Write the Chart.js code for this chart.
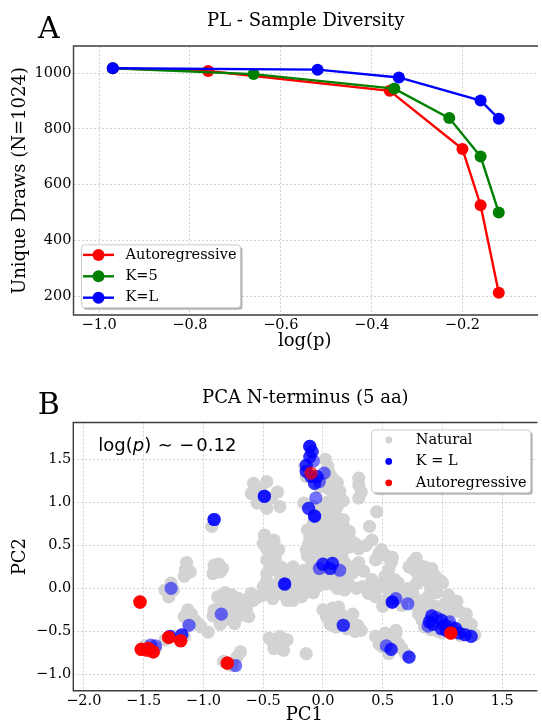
<!DOCTYPE html>
<html>
<head>
<meta charset="utf-8">
<script src="https://cdn.jsdelivr.net/npm/chart.js@4.4.1/dist/chart.umd.min.js"></script>
<style>
  html, body { margin: 0; padding: 0; background: #fff; }
  #wrap { position: relative; width: 542px; height: 726px; overflow: hidden; }
  #panelA { position: absolute; left: 0; top: 0; }
  #panelB { position: absolute; left: 0; top: 376px; }
</style>
</head>
<body>
<div id="wrap">
  <canvas id="panelA" width="542" height="360"></canvas>
  <canvas id="panelB" width="542" height="350"></canvas>
</div>
<script>
// ---- Panel A: unique draws (of 1024) against log(p)
const arLogP = [-0.97, -0.76, -0.36, -0.20, -0.16, -0.12];
const arUnique = [1018, 1008, 937, 728, 526, 212];
const k5LogP = [-0.97, -0.66, -0.35, -0.229, -0.16, -0.12];
const k5Unique = [1018, 997, 945, 839, 701, 500];
const kLLogP = [-0.97, -0.519, -0.34, -0.16, -0.12];
const kLUnique = [1018, 1013, 985, 902, 837];
const logPTicks = [-1.0, -0.8, -0.6, -0.4, -0.2];
const drawTicks = [200, 400, 600, 800, 1000];

// ---- Panel B: PCA of the N-terminus, log(p) ~ -0.12
const pcaLogP = -0.12;
const pc1Ticks = [-2.0, -1.5, -1.0, -0.5, 0.0, 0.5, 1.0, 1.5];
const pc2Ticks = [-1.0, -0.5, 0.0, 0.5, 1.0, 1.5];

// [PC1, PC2]
const naturalPoints = [
  // central column
  [0.02,1.50],[0.04,1.42],[0.05,1.35],[0.08,1.28],[0.12,1.23],[0.14,1.13],[0.10,1.08],[0.05,1.15],[0.02,1.25],[-0.03,1.18],[-0.15,1.42],[-0.14,1.30],
  [-0.16,0.99],[0.03,1.00],[0.08,0.98],[0.00,0.90],[0.07,0.85],[0.12,0.80],[-0.02,0.78],[0.05,0.76],[0.11,0.75],[0.15,0.72],
  [-0.08,0.95],[0.12,0.95],[-0.04,0.88],[0.10,0.88],[0.17,0.80],[-0.08,0.76],[0.18,0.70],[-0.13,0.68],[0.22,0.66],
  [-0.08,0.68],[0.00,0.68],[0.06,0.66],[0.13,0.65],[0.18,0.62],[-0.11,0.60],[-0.05,0.60],[0.03,0.60],[0.10,0.58],
  [-0.12,0.52],[-0.05,0.52],[0.02,0.52],[0.08,0.50],[0.15,0.50],[0.20,0.55],[-0.10,0.45],[0.00,0.44],[0.07,0.43],[0.17,0.44],
  [-0.14,0.45],[0.22,0.48],[-0.13,0.38],[-0.06,0.36],[0.03,0.38],[0.10,0.37],[0.16,0.35],[-0.09,0.30],[0.08,0.32],[0.18,0.30],
  [-0.02,0.30],[0.13,0.28],[0.04,0.27],[0.17,1.02],
  // right of the column
  [0.30,1.28],[0.30,1.20],[0.32,1.12],[0.30,1.05],[0.45,0.89],[0.39,0.72],[0.22,0.58],[0.27,0.52],[0.30,0.46],[0.36,0.50],[0.41,0.56],
  [0.49,0.45],[0.47,0.40],[0.53,0.38],[0.58,0.36],[0.78,0.35],[0.44,0.33],[0.57,0.30],[0.55,0.22],
  // upper left
  [-0.58,1.22],[-0.47,1.24],[-0.52,1.15],[-0.60,1.10],[-0.38,1.12],[-0.43,1.05],[-0.36,0.95],[-0.47,0.93],[-0.55,0.99],[-0.93,0.72],
  [-0.49,0.62],[-0.41,0.56],[-0.37,0.45],[-0.47,0.46],[-0.45,0.55],[-0.50,0.52],[-0.47,0.33],[-0.40,0.35],[-0.44,0.26],
  // left groups
  [-1.14,0.30],[-1.15,0.22],[-1.16,0.14],[-1.11,0.19],
  [-0.91,0.27],[-0.84,0.23],[-0.92,0.17],[-0.87,0.28],[-0.86,0.19],
  [-1.32,-0.02],[-1.27,0.06],[-1.29,-0.10],[-1.25,-0.02],
  [-1.13,-0.25],[-1.07,-0.37],[-1.02,-0.45],[-0.96,-0.51],[-1.16,-0.33],[-1.10,-0.30],[-1.04,-0.42],[-1.12,-0.42],
  [-0.88,-0.10],[-0.80,-0.14],[-0.91,-0.25],[-0.83,-0.37],[-0.74,-0.41],[-0.72,-0.21],[-0.66,-0.14],[-0.62,-0.33],[-0.58,-0.14],[-0.54,-0.10],
  [-0.85,-0.20],[-0.78,-0.27],[-0.70,-0.32],[-0.88,-0.33],[-0.76,-0.08],[-0.64,-0.24],[-0.60,-0.06],
  [-0.82,-0.05],[-0.70,-0.12],[-0.75,-0.18],[-0.68,-0.26],[-0.80,-0.33],[-0.86,-0.42],[-0.92,-0.32],
  // central mass
  [-0.47,0.17],[-0.41,0.02],[-0.33,-0.06],[-0.25,-0.14],[-0.19,0.10],[-0.22,0.19],[-0.14,0.17],[-0.38,0.21],[-0.27,0.17],[-0.22,-0.02],[-0.18,-0.10],
  [-0.30,-0.14],[-0.45,-0.04],[-0.16,0.21],[-0.11,0.10],[-0.05,0.02],[0.00,0.14],[-0.47,0.09],[-0.36,0.10],[-0.28,0.05],[-0.50,0.02],[-0.40,-0.08],
  [-0.42,0.28],[-0.35,0.25],[-0.30,0.20],[-0.25,0.25],[-0.20,0.05],[-0.12,0.00],[-0.08,-0.05],[-0.15,-0.05],[-0.35,-0.02],[-0.42,-0.12],
  [-0.50,-0.08],[-0.27,-0.08],[-0.06,0.15],[0.02,0.05],[0.12,0.00],[0.18,-0.02],
  [-0.10,0.25],[-0.04,0.22],[0.04,0.15],[0.10,0.12],[0.14,0.06],[0.08,0.05],[0.20,0.12],[0.22,0.04],[0.28,0.00],[0.33,0.02],[0.38,-0.06],[0.44,-0.10],
  [0.41,0.10],[0.52,0.14],[0.60,0.10],[0.66,-0.02],[0.50,-0.21],[0.63,0.06],[0.70,-0.10],[0.50,0.02],[0.56,0.00],[0.75,-0.05],[0.25,0.18],[0.16,0.20],
  [0.22,0.25],[0.30,0.30],[0.34,0.20],[0.59,-0.12],[0.66,-0.20],[0.45,0.05],[0.40,-0.02],[0.55,-0.10],[0.62,-0.05],[0.72,0.00],[0.78,0.05],
  // below centre
  [0.08,-0.23],[0.03,-0.33],[0.11,-0.45],[0.22,-0.37],[0.29,-0.43],[0.32,-0.49],[0.15,-0.30],[0.06,-0.42],[0.20,-0.47],[0.25,-0.30],[0.13,-0.22],
  [0.00,-0.25],[0.10,-0.35],[0.18,-0.40],[0.27,-0.50],[0.25,-0.40],
  // lower left
  [-1.32,-0.60],[-1.16,-0.56],[-1.24,-0.56],[-1.49,-0.67],[-1.40,-0.70],[-1.53,-0.15],
  [-0.83,-0.85],[-0.69,-0.74],[-0.72,-0.80],[-0.76,-0.90],
  [-0.45,-0.58],[-0.36,-0.56],[-0.30,-0.60],[-0.41,-0.70],[-0.33,-0.72],[-0.38,-0.64],[-0.42,-0.62],[-0.35,-0.68],
  [-0.14,-0.76],
  // right cluster
  [0.77,0.21],[0.85,0.17],[0.94,0.14],[0.99,0.08],[0.91,0.23],[0.80,0.14],[0.79,0.28],[1.00,0.06],[0.87,0.08],[0.90,0.00],
  [0.72,0.25],[0.85,0.25],[0.75,0.30],
  [0.83,-0.14],[0.88,-0.10],[0.94,-0.21],[1.02,-0.18],[1.10,-0.21],[1.14,-0.27],[1.04,-0.33],[0.83,-0.37],[0.85,-0.45],[1.21,-0.49],[1.27,-0.54],
  [0.83,-0.25],[0.97,-0.28],[1.18,-0.40],[1.08,-0.50],[1.00,-0.52],[0.88,-0.30],[1.07,-0.27],
  [0.95,-0.05],[1.05,-0.08],[1.12,-0.15],[1.20,-0.30],[1.24,-0.42],[0.90,-0.20],[0.78,-0.20],[0.80,-0.30],[0.90,-0.48],[0.96,-0.50],[1.15,-0.55],
  [0.69,-0.10],[0.61,0.06],[0.47,0.41],[0.57,0.33],
  // lower right
  [0.44,-0.56],[0.50,-0.68],[0.61,-0.52],[0.63,-0.64],[0.69,-0.76],[0.55,-0.76],[0.50,-0.60],[0.58,-0.60],[0.61,-0.49],
  [0.47,-0.65],[0.66,-0.70],[0.52,-0.52]
];

// [PC1, PC2, number of identical draws]
const kLPoints = [
  [-0.11,1.65,3],[-0.09,1.59,2],[-0.11,1.53,2],[-0.08,1.48,1],[-0.14,1.43,2],[-0.14,1.36,2],[-0.10,1.30,2],[-0.05,1.30,2],[0.01,1.34,1],[-0.03,1.24,1],[-0.07,1.22,2],
  [-0.06,1.05,1],[-0.12,0.93,2],[-0.07,0.84,3],
  [-0.49,1.07,3],[-0.91,0.80,3],
  [0.00,0.28,2],[0.06,0.23,2],[0.08,0.29,2],[0.14,0.21,1],[-0.03,0.23,1],
  [-0.32,0.05,3],
  [-1.27,0.00,1],[-1.12,-0.43,1],[-0.85,-0.30,1],
  [-1.28,-0.56,2],[-1.18,-0.54,2],[-1.44,-0.66,1],[-1.40,-0.67,1],[-0.73,-0.90,1],
  [0.17,-0.43,2],
  [0.58,-0.16,3],[0.61,-0.12,1],[0.71,-0.18,1],
  [0.53,-0.67,1],[0.57,-0.71,2],[0.72,-0.80,2],
  [0.91,-0.32,2],[0.89,-0.39,2],[0.92,-0.42,2],[0.99,-0.37,2],[1.02,-0.43,2],[1.06,-0.39,1],[0.99,-0.47,2],[1.03,-0.49,2],
  [1.11,-0.47,2],[1.14,-0.52,2],[1.19,-0.54,2],[1.24,-0.56,2],[0.88,-0.44,1],[0.95,-0.34,1],[1.08,-0.45,1]
];

const arPoints = [
  [-1.53,-0.16,3],[-1.29,-0.57,3],[-1.19,-0.61,3],[-1.52,-0.71,3],[-1.46,-0.70,3],[-1.42,-0.74,3],[-1.47,-0.72,2],
  [-0.80,-0.87,3],[1.07,-0.52,3],[-0.10,1.34,1]
];

const RED = '#ff0000', GREEN = '#008000', BLUE = '#0000ff', GREY = '#d3d3d3';
const SERIF = '"DejaVu Serif", serif';

Chart.defaults.font.family = SERIF;
Chart.defaults.font.size = 14.5;
Chart.defaults.color = '#000';

const toXY = (xs, ys) => xs.map((x, i) => ({ x, y: ys[i] }));
const expand = pts => {
  const out = [];
  pts.forEach(([x, y, n]) => { for (let k = 0; k < (n || 1); k++) out.push({ x, y }); });
  return out;
};
const fmt = (v, d) => (v < 0 ? '\u2212' : '') + Math.abs(v).toFixed(d);
const fixTicks = list => scale => { scale.ticks = list.map(v => ({ value: v })); };

function roundRect(ctx, x, y, w, h, r) {
  ctx.beginPath();
  ctx.moveTo(x + r, y);
  ctx.arcTo(x + w, y, x + w, y + h, r);
  ctx.arcTo(x + w, y + h, x, y + h, r);
  ctx.arcTo(x, y + h, x, y, r);
  ctx.arcTo(x, y, x + w, y, r);
  ctx.closePath();
}

// axes spines (left, top, bottom)
const frame = {
  id: 'frame',
  afterDatasetsDraw(chart) {
    const { ctx, chartArea: a } = chart;
    ctx.save();
    ctx.strokeStyle = '#3c3c3c';
    ctx.lineWidth = 1.4;
    ctx.beginPath();
    ctx.moveTo(a.right + 2, a.top);
    ctx.lineTo(a.left, a.top);
    ctx.lineTo(a.left, a.bottom);
    ctx.lineTo(a.right + 2, a.bottom);
    ctx.stroke();
    ctx.restore();
  }
};

// matplotlib-like framed legend inside the axes
const mplLegend = {
  id: 'mplLegend',
  afterDraw(chart, args, o) {
    const { ctx, chartArea: a } = chart;
    const sets = chart.data.datasets;
    ctx.save();
    ctx.font = '14.5px ' + SERIF;
    const textW = Math.max(...sets.map(d => ctx.measureText(d.label).width));
    const w = 44 + textW + 4;
    const h = 20 + o.rowH * (sets.length - 1);
    const x = o.corner === 'upper right' ? a.right - o.dx - w : a.left + o.dx;
    const y = o.corner === 'upper right' ? a.top + o.dy : a.bottom - o.dy - h;
    ctx.fillStyle = 'rgba(0,0,0,0.3)';
    roundRect(ctx, x + 2, y + 2, w, h, 3);
    ctx.fill();
    ctx.fillStyle = '#fff';
    ctx.strokeStyle = '#cccccc';
    ctx.lineWidth = 1;
    roundRect(ctx, x, y, w, h, 3);
    ctx.fill();
    ctx.stroke();
    sets.forEach((d, i) => {
      const cy = y + 10 + i * o.rowH;
      const col = d.legendColor;
      if (o.line) {
        ctx.strokeStyle = col;
        ctx.lineWidth = 2.4;
        ctx.beginPath();
        ctx.moveTo(x + 1.5, cy);
        ctx.lineTo(x + 32.5, cy);
        ctx.stroke();
      }
      ctx.fillStyle = col;
      ctx.beginPath();
      ctx.arc(x + 17, cy, o.markerR, 0, Math.PI * 2);
      ctx.fill();
      ctx.fillStyle = '#000';
      ctx.textBaseline = 'middle';
      ctx.textAlign = 'left';
      ctx.fillText(d.label, x + 44, cy);
    });
    ctx.restore();
  }
};

// panel letter, axes title and optional note
const panelText = {
  id: 'panelText',
  afterDraw(chart, args, o) {
    const { ctx, chartArea: a } = chart;
    ctx.save();
    ctx.fillStyle = '#000';
    ctx.textBaseline = 'alphabetic';
    ctx.textAlign = 'center';
    ctx.font = '18px ' + SERIF;
    ctx.fillText(o.title, (a.left + a.right) / 2 + 1, a.top - 20);
    ctx.textAlign = 'left';
    ctx.font = '30px ' + SERIF;
    ctx.fillText(o.letter, a.left - 35.5, a.top - 8.5);
    if (o.note) {
      let x = a.left + 25;
      const y = a.top + 28.2;
      o.note.forEach(part => {
        if (part.gap) { x += part.gap; return; }
        ctx.font = (part.italic ? 'italic ' : '') + '18px "DejaVu Sans", sans-serif';
        ctx.fillText(part.text, x, y);
        x += ctx.measureText(part.text).width;
      });
    }
    ctx.restore();
  }
};

const gridOpts = { color: 'rgba(0,0,0,0.22)', lineWidth: 0.8, drawTicks: false };
const borderOpts = { display: false, dash: [2, 2] };
const axisTitle = (text, pad) => ({ display: true, text, font: { size: 18 }, padding: pad });

new Chart(document.getElementById('panelA'), {
  type: 'line',
  data: {
    datasets: [
      { label: 'Autoregressive', data: toXY(arLogP, arUnique), borderColor: RED, backgroundColor: RED, legendColor: RED, order: 3 },
      { label: 'K=5', data: toXY(k5LogP, k5Unique), borderColor: GREEN, backgroundColor: GREEN, legendColor: GREEN, order: 2 },
      { label: 'K=L', data: toXY(kLLogP, kLUnique), borderColor: BLUE, backgroundColor: BLUE, legendColor: BLUE, order: 1 }
    ]
  },
  options: {
    responsive: false,
    animation: false,
    events: [],
    layout: { padding: { top: 46, left: 0, right: 0, bottom: 0 } },
    elements: {
      line: { borderWidth: 2.4, tension: 0 },
      point: { radius: 6, borderWidth: 0 }
    },
    scales: {
      x: {
        type: 'linear', min: -1.0565, max: -0.038,
        afterBuildTicks: fixTicks(logPTicks),
        afterFit: s => { s.height = 45; },
        grid: gridOpts, border: borderOpts,
        ticks: { padding: 2, callback: v => fmt(v, 1) },
        title: axisTitle('log(p)', { top: 0, bottom: 7.5 })
      },
      y: {
        min: 131.8, max: 1098,
        afterBuildTicks: fixTicks(drawTicks),
        afterFit: s => { s.width = 73.5; },
        grid: gridOpts, border: borderOpts,
        ticks: { padding: 2, callback: v => String(v) },
        title: axisTitle('Unique Draws (N=1024)', { top: 10, bottom: 0 })
      }
    },
    plugins: {
      legend: { display: false },
      tooltip: { enabled: false },
      mplLegend: { corner: 'lower left', dx: 8, dy: 7.3, rowH: 21.4, line: true, markerR: 6 },
      panelText: { title: 'PL - Sample Diversity', letter: 'A' }
    }
  },
  plugins: [frame, mplLegend, panelText]
});

new Chart(document.getElementById('panelB'), {
  type: 'scatter',
  data: {
    datasets: [
      { label: 'Natural', data: naturalPoints.map(([x, y]) => ({ x, y })), backgroundColor: GREY, legendColor: GREY, order: 3 },
      { label: 'K = L', data: expand(kLPoints), backgroundColor: 'rgba(0,0,255,0.55)', legendColor: BLUE, order: 2 },
      { label: 'Autoregressive', data: expand(arPoints), backgroundColor: 'rgba(255,0,0,0.7)', legendColor: RED, order: 1 }
    ]
  },
  options: {
    responsive: false,
    animation: false,
    events: [],
    layout: { padding: { top: 46.5, left: 0, right: 0, bottom: 0 } },
    elements: { point: { radius: 6.6, borderWidth: 0 } },
    scales: {
      x: {
        type: 'linear', min: -2.088, max: 1.777,
        afterBuildTicks: fixTicks(pc1Ticks),
        afterFit: s => { s.height = 35.2; },
        grid: gridOpts, border: borderOpts,
        ticks: { padding: 2, callback: v => fmt(v, 1) },
        title: axisTitle('PC1', { top: 0, bottom: 0 })
      },
      y: {
        min: -1.192, max: 1.928,
        afterBuildTicks: fixTicks(pc2Ticks),
        afterFit: s => { s.width = 73.3; },
        grid: gridOpts, border: borderOpts,
        ticks: { padding: 2, callback: v => fmt(v, 1) },
        title: axisTitle('PC2', { top: 10, bottom: 0 })
      }
    },
    plugins: {
      legend: { display: false },
      tooltip: { enabled: false },
      mplLegend: { corner: 'upper right', dx: 4.7, dy: 7.5, rowH: 21.4, line: false, markerR: 3.4 },
      panelText: {
        title: 'PCA N-terminus (5 aa)', letter: 'B',
        note: [
          { text: 'log(' }, { text: 'p', italic: true }, { text: ')' },
          { gap: 6.5 }, { text: '\u223C' }, { gap: 6.5 },
          { text: '\u2212' }, { gap: 2 }, { text: Math.abs(pcaLogP).toFixed(2) }
        ]
      }
    }
  },
  plugins: [frame, mplLegend, panelText]
});
</script>
</body>
</html>
